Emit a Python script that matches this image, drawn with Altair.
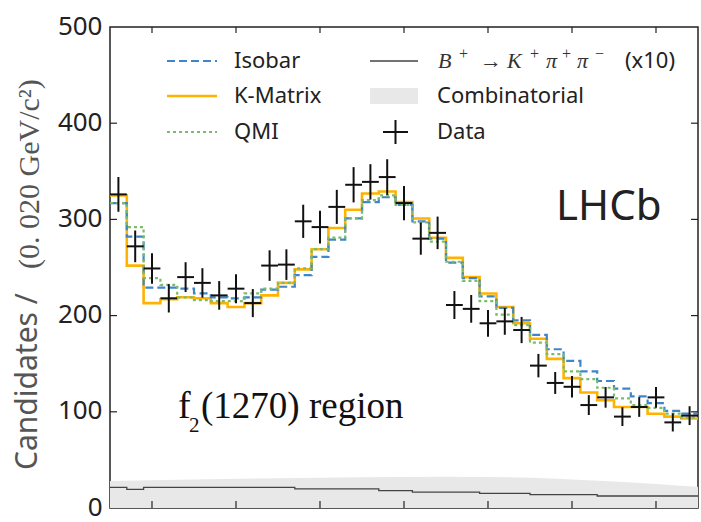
import altair as alt
import pandas as pd
import numpy as np

# ---------------- data ----------------
bin_lo = 0.95
bin_w = 0.02

data_counts = [326, 272, 249, 218, 240, 234, 221, 228, 213, 252, 253, 298, 292, 313, 336,
               339, 344, 317, 280, 286, 211, 207, 192, 194, 185, 148, 130, 126, 107, 115,
               95, 105, 115, 89, 96]
isobar = [317, 282, 229, 229, 228, 223, 219, 218, 219, 227, 230, 242, 261, 279, 301,
          318, 323, 315, 298, 280, 255, 239, 220, 208, 195, 180, 165, 153, 142, 132,
          124, 116, 109, 101, 98]
kmatrix = [325, 252, 213, 217, 219, 218, 213, 209, 213, 221, 234, 248, 269, 291, 310,
           327, 329, 318, 301, 281, 260, 240, 223, 209, 192, 176, 155, 135, 120, 112,
           105, 105, 98, 95, 93]
qmi = [317, 292, 239, 232, 219, 216, 215, 215, 223, 228, 234, 249, 269, 281, 301,
       320, 325, 315, 297, 277, 256, 236, 215, 201, 190, 172, 160, 142, 134, 125,
       114, 107, 104, 98, 94]
kpipi_x10 = [21.5, 19.4, 21.5, 21.5, 21.5, 21.5, 21.5, 21.5, 21.5, 21.5, 21.5, 19.9,
             19.9, 19.9, 19.9, 19.9, 18.0, 18.0, 16.6, 16.6, 16.6, 16.6, 15.2, 15.2,
             15.2, 13.8, 13.8, 13.8, 13.8, 12.5, 12.5, 12.5, 12.5, 12.5, 12.5]
comb_x = [0.95, 1.05, 1.15, 1.25, 1.35, 1.45, 1.50, 1.55, 1.60, 1.65]
comb_y = [28.0, 29.5, 31.0, 32.0, 32.5, 31.5, 29.5, 27.5, 25.0, 22.0]

y_ticks = [0, 100, 200, 300, 400, 500]
x_ticks = [1.0, 1.1, 1.2, 1.3, 1.4, 1.5, 1.6]
x_domain = [0.95, 1.65]
y_domain = [0, 500]

# ---------------- tables ----------------
n = len(data_counts)
edges = [round(bin_lo + bin_w * i, 4) for i in range(n + 1)]
centers = [round(bin_lo + bin_w * (i + 0.5), 4) for i in range(n)]


def step_df(vals):
    return pd.DataFrame({"x": edges, "y": list(vals) + [vals[-1]]})


err = np.sqrt(np.array(data_counts, dtype=float))
data_df = pd.DataFrame({
    "x": centers,
    "xlo": [c - bin_w / 2 for c in centers],
    "xhi": [c + bin_w / 2 for c in centers],
    "y": data_counts,
    "ylo": np.array(data_counts) - err,
    "yhi": np.array(data_counts) + err,
})
comb_df = pd.DataFrame({"x": comb_x, "y": comb_y})

W, H = 588, 481
xs = alt.Scale(domain=x_domain, nice=False, zero=False)
ys = alt.Scale(domain=y_domain, nice=False, zero=False)
SANS = "Noto Sans"
SERIF = "Liberation Serif, DejaVu Serif, serif"
C_ISO, C_KM, C_QMI = "#3f85c8", "#ffb300", "#7dbb6c"

yaxis = alt.Axis(values=y_ticks, ticks=False, domain=False, grid=False,
                 labelFontSize=26, labelFont=SANS, labelColor="#222",
                 labelPadding=8, labelOffset=-1, title=None)


def X(f="x"):
    return alt.X(f + ":Q", scale=xs, axis=None)


def Y(f="y"):
    return alt.Y(f + ":Q", scale=ys, axis=yaxis)


layers = []

# combinatorial background
layers.append(alt.Chart(comb_df).mark_area(color="#e8e8e8", interpolate="monotone")
              .encode(x=X(), y=Y()))
# B -> K pi pi (x10)
layers.append(alt.Chart(step_df(kpipi_x10)).mark_line(interpolate="step-after",
              color="#444", strokeWidth=1.3).encode(x=X(), y=Y()))
# models
layers.append(alt.Chart(step_df(kmatrix)).mark_line(interpolate="step-after",
              color=C_KM, strokeWidth=2.6).encode(x=X(), y=Y()))
layers.append(alt.Chart(step_df(isobar)).mark_line(interpolate="step-after",
              color=C_ISO, strokeWidth=2.2, strokeDash=[8, 4]).encode(x=X(), y=Y()))
layers.append(alt.Chart(step_df(qmi)).mark_line(interpolate="step-after",
              color=C_QMI, strokeWidth=2.2, strokeDash=[3, 3]).encode(x=X(), y=Y()))
# data crosses
layers.append(alt.Chart(data_df).mark_rule(color="#111", strokeWidth=2)
              .encode(x=X(), y=Y("ylo"), y2="yhi:Q"))
layers.append(alt.Chart(data_df).mark_rule(color="#111", strokeWidth=2)
              .encode(x=X("xlo"), x2="xhi:Q", y=Y()))

# inward ticks on all four sides
ytk = pd.DataFrame({"y": y_ticks[1:-1]})
xtk = pd.DataFrame({"x": x_ticks})
TL = 7
layers.append(alt.Chart(ytk).mark_rule(color="#222", strokeWidth=1.2)
              .encode(y=Y(), x=alt.value(0), x2=alt.value(TL)))
layers.append(alt.Chart(ytk).mark_rule(color="#222", strokeWidth=1.2)
              .encode(y=Y(), x=alt.value(W - TL), x2=alt.value(W)))
layers.append(alt.Chart(xtk).mark_rule(color="#222", strokeWidth=1.2)
              .encode(x=X(), y=alt.value(0), y2=alt.value(TL - 1)))
layers.append(alt.Chart(xtk).mark_rule(color="#222", strokeWidth=1.2)
              .encode(x=X(), y=alt.value(H - TL), y2=alt.value(H)))


def txt(label, x, y, size, font=SANS, color="#222", align="left", angle=None,
        style=None, baseline="middle"):
    kw = dict(align=align, baseline=baseline, fontSize=size, font=font, color=color)
    if angle is not None:
        kw["angle"] = angle
    if style:
        kw["fontStyle"] = style
    return (alt.Chart(pd.DataFrame({"t": [label]})).mark_text(**kw)
            .encode(x=alt.value(x), y=alt.value(y), text="t:N"))


def seg(x1, x2, y1, y2, color, width, dash=None):
    kw = dict(color=color, strokeWidth=width)
    if dash:
        kw["strokeDash"] = dash
    return (alt.Chart(pd.DataFrame({"a": [0]})).mark_rule(**kw)
            .encode(x=alt.value(x1), x2=alt.value(x2), y=alt.value(y1), y2=alt.value(y2)))


# legend (column 1)
r1, r2, r3 = 34, 69, 105
LFS = 22
layers.append(seg(57, 107, r1, r1, C_ISO, 2.2, [8, 4]))
layers.append(seg(57, 107, r2, r2, C_KM, 2.6))
layers.append(seg(57, 107, r3, r3, C_QMI, 2.2, [3, 3]))
layers.append(txt("Isobar", 124, r1, LFS))
layers.append(txt("K-Matrix", 124, r2, LFS))
layers.append(txt("QMI", 124, r3, LFS))
# legend (column 2)
layers.append(seg(260, 308, r1, r1, "#444", 1.3))
layers.append(alt.Chart(pd.DataFrame({"a": [0]})).mark_rect(color="#e8e8e8")
              .encode(x=alt.value(260), x2=alt.value(308), y=alt.value(r2 - 8), y2=alt.value(r2 + 8)))
layers.append(seg(273, 298, r3, r3, "#111", 2))
layers.append(seg(285.5, 285.5, r3 - 12, r3 + 12, "#111", 2))
# B+ -> K+ pi+ pi-  (math-like: italic letters, raised upright signs)
MB = r1 + 7
for s, xx, it in [("B", 328, True), ("\u2192", 370, False), ("K", 397, True),
                  ("\u03c0", 436, True), ("\u03c0", 467, True)]:
    layers.append(txt(s, xx, MB, 22, font=SERIF, color="#333",
                      style="italic" if it else None, baseline="alphabetic"))
for s, xx in [("+", 349), ("+", 420), ("+", 452), ("\u2212", 485)]:
    layers.append(txt(s, xx, MB - 9, 16, font=SERIF, color="#333", baseline="alphabetic"))
layers.append(txt("(x10)", 515, r1, LFS))
layers.append(txt("Combinatorial", 327, r2, LFS))
layers.append(txt("Data", 327, r3, LFS))

# annotations
layers.append(txt("LHCb", 446, 180, 42, color="#222"))
layers.append(txt("f", 68, 391, 38, font=SERIF, color="#111", baseline="alphabetic"))
layers.append(txt("2", 79, 405, 21, font=SERIF, color="#111", baseline="alphabetic"))
layers.append(txt("(1270) region", 91, 391, 37, font=SERIF, color="#111", baseline="alphabetic"))

# y-axis title (sans part + serif part)
layers.append(txt("Candidates /", -82, 443, 30, color="#555", angle=270))
layers.append(txt("(0. 020 GeV/c\u00b2)", -80, 242, 30, font=SERIF, color="#555", angle=270))

chart = (alt.layer(*layers)
         .properties(width=W, height=H,
                     autosize=alt.AutoSizeParams(type="none"),
                     padding={"left": 110, "top": 27, "right": 3, "bottom": 14},
                     background="white")
         .configure_view(stroke="#222", strokeWidth=1.5))

chart.save("out.html", embed_options={"renderer": "svg", "actions": False})
